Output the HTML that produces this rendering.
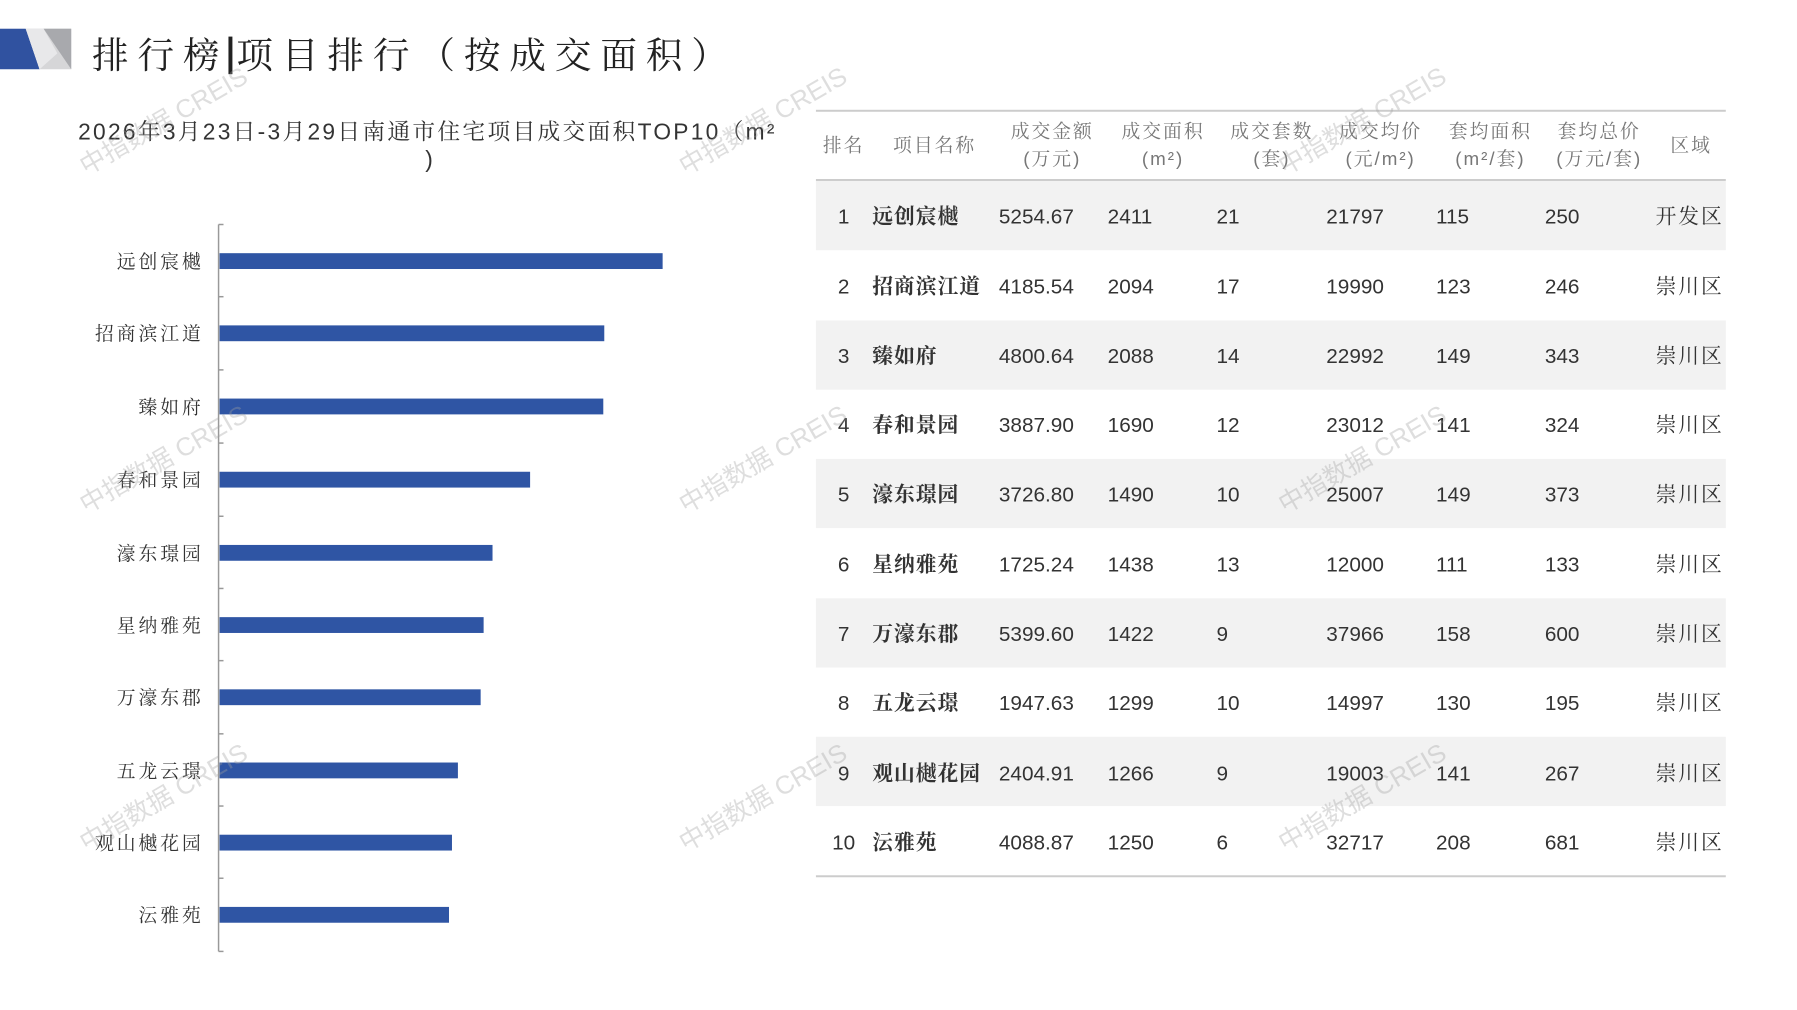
<!DOCTYPE html>
<html><head><meta charset="utf-8"><style>
body{margin:0;width:1797px;height:1010px;background:#fff;position:relative;overflow:hidden;font-family:"Liberation Sans","Noto Serif CJK SC","Noto Sans CJK SC",serif;}
#w{position:absolute;left:0;top:0;width:1797px;height:1010px;transform:scale(0.989);transform-origin:0 0;}
.a{position:absolute;white-space:nowrap;}
.h{font-size:19px;color:#777;text-align:center;line-height:28px;letter-spacing:2px;}
.wm{position:absolute;font-family:"Liberation Sans","Noto Sans CJK SC",sans-serif;font-size:26px;color:rgba(160,160,160,0.35);transform:rotate(-30deg);transform-origin:left center;white-space:nowrap;}
</style></head><body><div id="w">
<svg class="a" style="left:0;top:29px" width="74" height="42">
<polygon points="0,0 26,0 40,41 0,41" fill="#3052a0"/>
<polygon points="26,0 72,0 72,41 40,41" fill="#d6d6d8"/>
<polygon points="44,0 72,0 72,41" fill="#a8a9ad"/>
<polygon points="26,0 44,0 58,25 40,41" fill="#e8e8ea"/>
</svg>
<div class="a" style="left:93px;top:26px;font-size:37px;color:#222;letter-spacing:9px;font-family:'Liberation Sans','Noto Serif CJK SC',serif;">排行榜<span style="display:inline-block;width:4px;height:38px;background:#222;vertical-align:-6px;margin:0 4px 0 0"></span>项目排行（按成交面积）</div>
<div class="a" style="left:79px;top:115px;font-size:23px;color:#333;letter-spacing:2.3px;">2026年3月23日-3月29日南通市住宅项目成交面积TOP10（m²</div>
<div class="a" style="left:430px;top:148px;font-size:23px;color:#333;">)</div>

<svg class="a" style="left:0;top:0" width="820" height="1010">
<g stroke="#999" stroke-width="1.5"><line x1="221" y1="227" x2="221" y2="962"/>
<line x1="221" y1="227" x2="226" y2="227"/><line x1="221" y1="300" x2="226" y2="300"/><line x1="221" y1="374" x2="226" y2="374"/><line x1="221" y1="448" x2="226" y2="448"/><line x1="221" y1="522" x2="226" y2="522"/><line x1="221" y1="595" x2="226" y2="595"/><line x1="221" y1="668" x2="226" y2="668"/><line x1="221" y1="742" x2="226" y2="742"/><line x1="221" y1="815" x2="226" y2="815"/><line x1="221" y1="888" x2="226" y2="888"/><line x1="221" y1="962" x2="226" y2="962"/></g>
<g fill="#2f55a4">
<rect x="222" y="256" width="448" height="16"/><rect x="222" y="329" width="389" height="16"/><rect x="222" y="403" width="388" height="16"/><rect x="222" y="477" width="314" height="16"/><rect x="222" y="551" width="276" height="16"/><rect x="222" y="624" width="267" height="16"/><rect x="222" y="697" width="264" height="16"/><rect x="222" y="771" width="241" height="16"/><rect x="222" y="844" width="235" height="16"/><rect x="222" y="917" width="232" height="16"/></g>
<g font-size="19" fill="#333" text-anchor="end" letter-spacing="3" font-family="Liberation Sans,Noto Serif CJK SC,serif">
<text x="206" y="271">远创宸樾</text><text x="206" y="344">招商滨江道</text><text x="206" y="418">臻如府</text><text x="206" y="492">春和景园</text><text x="206" y="566">濠东璟园</text><text x="206" y="639">星纳雅苑</text><text x="206" y="712">万濠东郡</text><text x="206" y="786">五龙云璟</text><text x="206" y="859">观山樾花园</text><text x="206" y="932">沄雅苑</text></g>
</svg>

<div class="a" style="left:825px;top:111px;width:920px;height:2px;background:#ccc"></div>
<div class="a h" style="left:823px;top:134px;width:60px;">排名</div>
<div class="a h" style="left:890px;top:134px;width:110px;">项目名称</div>
<div class="a h" style="left:1004px;top:120px;width:120px;">成交金额<br>(万元)</div>
<div class="a h" style="left:1116px;top:120px;width:120px;">成交面积<br>(m²)</div>
<div class="a h" style="left:1226px;top:120px;width:120px;">成交套数<br>(套)</div>
<div class="a h" style="left:1336px;top:120px;width:120px;">成交均价<br>(元/m²)</div>
<div class="a h" style="left:1447px;top:120px;width:120px;">套均面积<br>(m²/套)</div>
<div class="a h" style="left:1557px;top:120px;width:120px;">套均总价<br>(万元/套)</div>
<div class="a h" style="left:1680px;top:134px;width:60px;">区域</div>
<div class="a" style="left:825px;top:181px;width:920px;height:2px;background:#ccc"></div>
<div class="a" style="left:825px;top:183px;width:920px;height:70px;background:#f2f2f2"></div>
<div class="a" style="left:825px;top:324px;width:920px;height:70px;background:#f2f2f2"></div>
<div class="a" style="left:825px;top:464px;width:920px;height:70px;background:#f2f2f2"></div>
<div class="a" style="left:825px;top:605px;width:920px;height:70px;background:#f2f2f2"></div>
<div class="a" style="left:825px;top:745px;width:920px;height:70px;background:#f2f2f2"></div>
<div class="a" style="left:825px;top:885px;width:920px;height:2px;background:#ccc"></div>

<svg class="a" style="left:0;top:0" width="1797" height="1010">
<g font-size="21" fill="#333" font-family="Liberation Sans,Noto Serif CJK SC,serif">
<g text-anchor="middle">
<text x="853" y="226">1</text><text x="853" y="297">2</text><text x="853" y="367">3</text><text x="853" y="437">4</text><text x="853" y="507">5</text><text x="853" y="578">6</text><text x="853" y="648">7</text><text x="853" y="718">8</text><text x="853" y="789">9</text><text x="853" y="859">10</text></g>
<g font-weight="bold" letter-spacing="1"><text x="882" y="226">远创宸樾</text><text x="882" y="297">招商滨江道</text><text x="882" y="367">臻如府</text><text x="882" y="437">春和景园</text><text x="882" y="507">濠东璟园</text><text x="882" y="578">星纳雅苑</text><text x="882" y="648">万濠东郡</text><text x="882" y="718">五龙云璟</text><text x="882" y="789">观山樾花园</text><text x="882" y="859">沄雅苑</text></g>
<text x="1010" y="226">5254.67</text><text x="1010" y="297">4185.54</text><text x="1010" y="367">4800.64</text><text x="1010" y="437">3887.90</text><text x="1010" y="507">3726.80</text><text x="1010" y="578">1725.24</text><text x="1010" y="648">5399.60</text><text x="1010" y="718">1947.63</text><text x="1010" y="789">2404.91</text><text x="1010" y="859">4088.87</text>
<text x="1120" y="226">2411</text><text x="1120" y="297">2094</text><text x="1120" y="367">2088</text><text x="1120" y="437">1690</text><text x="1120" y="507">1490</text><text x="1120" y="578">1438</text><text x="1120" y="648">1422</text><text x="1120" y="718">1299</text><text x="1120" y="789">1266</text><text x="1120" y="859">1250</text>
<text x="1230" y="226">21</text><text x="1230" y="297">17</text><text x="1230" y="367">14</text><text x="1230" y="437">12</text><text x="1230" y="507">10</text><text x="1230" y="578">13</text><text x="1230" y="648">9</text><text x="1230" y="718">10</text><text x="1230" y="789">9</text><text x="1230" y="859">6</text>
<text x="1341" y="226">21797</text><text x="1341" y="297">19990</text><text x="1341" y="367">22992</text><text x="1341" y="437">23012</text><text x="1341" y="507">25007</text><text x="1341" y="578">12000</text><text x="1341" y="648">37966</text><text x="1341" y="718">14997</text><text x="1341" y="789">19003</text><text x="1341" y="859">32717</text>
<text x="1452" y="226">115</text><text x="1452" y="297">123</text><text x="1452" y="367">149</text><text x="1452" y="437">141</text><text x="1452" y="507">149</text><text x="1452" y="578">111</text><text x="1452" y="648">158</text><text x="1452" y="718">130</text><text x="1452" y="789">141</text><text x="1452" y="859">208</text>
<text x="1562" y="226">250</text><text x="1562" y="297">246</text><text x="1562" y="367">343</text><text x="1562" y="437">324</text><text x="1562" y="507">373</text><text x="1562" y="578">133</text><text x="1562" y="648">600</text><text x="1562" y="718">195</text><text x="1562" y="789">267</text><text x="1562" y="859">681</text>
<g letter-spacing="2"><text x="1674" y="226">开发区</text><text x="1674" y="297">崇川区</text><text x="1674" y="367">崇川区</text><text x="1674" y="437">崇川区</text><text x="1674" y="507">崇川区</text><text x="1674" y="578">崇川区</text><text x="1674" y="648">崇川区</text><text x="1674" y="718">崇川区</text><text x="1674" y="789">崇川区</text><text x="1674" y="859">崇川区</text></g>
</g></svg>

<div class="wm" style="left:82px;top:150px">中指数据 CREIS</div>
<div class="wm" style="left:688px;top:150px">中指数据 CREIS</div>
<div class="wm" style="left:1294px;top:150px">中指数据 CREIS</div>
<div class="wm" style="left:82px;top:492px">中指数据 CREIS</div>
<div class="wm" style="left:688px;top:492px">中指数据 CREIS</div>
<div class="wm" style="left:1294px;top:492px">中指数据 CREIS</div>
<div class="wm" style="left:82px;top:834px">中指数据 CREIS</div>
<div class="wm" style="left:688px;top:834px">中指数据 CREIS</div>
<div class="wm" style="left:1294px;top:834px">中指数据 CREIS</div>
</div></body></html>
